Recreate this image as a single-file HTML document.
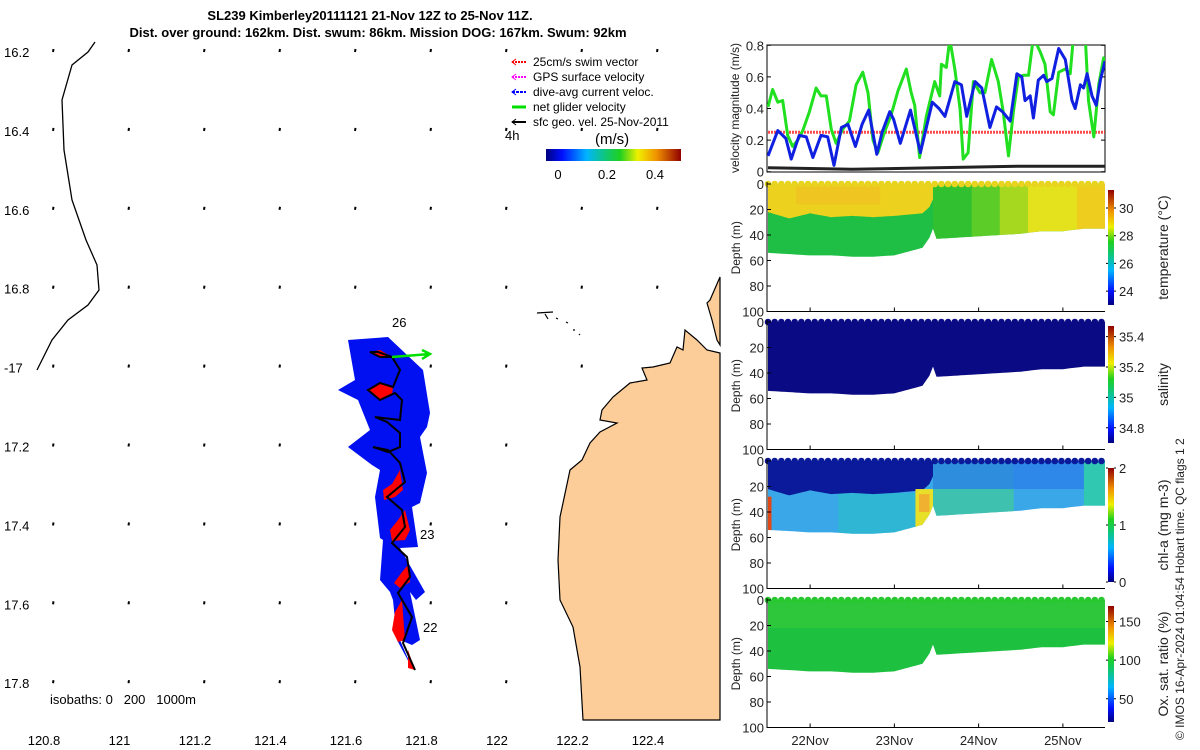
<!DOCTYPE html>
<html><head><meta charset="utf-8"><style>
body{margin:0;background:#fff}
svg{display:block;font-family:"Liberation Sans","DejaVu Sans",sans-serif}
</style></head><body>
<svg id="s" width="1200" height="750" viewBox="0 0 1200 750" xmlns="http://www.w3.org/2000/svg">
<defs>
<linearGradient id="jetH" x1="0" x2="1" y1="0" y2="0">
<stop offset="0" stop-color="#00007f"/><stop offset="0.12" stop-color="#0010ff"/><stop offset="0.3" stop-color="#00b4ff"/><stop offset="0.45" stop-color="#10c870"/><stop offset="0.55" stop-color="#20d020"/><stop offset="0.68" stop-color="#f0f000"/><stop offset="0.82" stop-color="#f09000"/><stop offset="1" stop-color="#900000"/>
</linearGradient>
<linearGradient id="jetV" x1="0" x2="0" y1="1" y2="0">
<stop offset="0" stop-color="#00007f"/><stop offset="0.12" stop-color="#0010ff"/><stop offset="0.3" stop-color="#00b4ff"/><stop offset="0.45" stop-color="#10c870"/><stop offset="0.55" stop-color="#20d020"/><stop offset="0.68" stop-color="#f0f000"/><stop offset="0.82" stop-color="#f09000"/><stop offset="1" stop-color="#900000"/>
</linearGradient>
<clipPath id="velClip"><rect x="767" y="45" width="338" height="127"/></clipPath>
</defs>

<g font-weight="bold" font-size="13" text-anchor="middle">
<text x="370" y="20">SL239 Kimberley20111121 21-Nov 12Z to 25-Nov 11Z.</text>
<text x="378" y="37">Dist. over ground: 162km. Dist. swum: 86km. Mission DOG: 167km. Swum: 92km</text>
</g>

<g>
<path fill="#fccc99" stroke="#000" stroke-width="1.2" d="M720,353 L707,350 L697,340 L685,330 L683,350 L677,347 L670,363 L653,367 L642,368 L647,380 L630,383 L613,397 L602,410 L600,420 L617,423 L600,432 L590,443 L582,460 L570,470 L563,503 L560,517 L558,560 L560,600 L573,627 L580,667 L583,720 L720,720 Z"/>
<path fill="#fccc99" stroke="#000" stroke-width="1.2" d="M720,277 L710,300 L707,303 L712,320 L717,340 L720,345 Z"/>
<path fill="none" stroke="#000" stroke-width="1.2" d="M537,313 L553,312 M545,314 L548,319 M556,318 l2,1 M566,322 l2,1 M573,330 l2,0 M579,334 l1,1"/>
<path fill="none" stroke="#000" stroke-width="1.3" d="M95,42 L88,52 L72,65 L62,100 L64,150 L72,200 L86,240 L97,265 L99,290 L88,305 L68,320 L52,340 L37,370"/>
<g id="grid"></g>
<path fill="#0010f0" d="M348,340 L388,337 L423,370 L430,413 L427,427 L420,437 L427,473 L420,503 L412,507 L418,547 L400,548 L425,592 L416,600 L410,592 L420,640 L412,645 L400,640 L412,668 L397,640 L393,600 L390,592 L380,580 L383,540 L380,538 L375,497 L380,470 L372,465 L348,447 L370,430 L358,400 L338,390 L355,380 Z"/>
<g fill="#ff0000">
<path d="M370,352 L380,350 L392,357 L380,358 Z"/>
<path d="M368,390 L380,383 L393,387 L392,395 L380,400 Z"/>
<path d="M400,470 L403,490 L395,497 L384,500 L383,490 L392,484 Z"/>
<path d="M405,510 L410,530 L405,540 L392,541 L390,530 L398,520 Z"/>
<path d="M408,565 L410,582 L400,588 L394,583 L402,572 Z"/>
<path d="M402,600 L405,640 L398,642 L392,630 L395,612 Z"/>
<path d="M408,650 L415,670 L408,668 Z"/>
</g>
<path fill="none" stroke="#000" stroke-width="2" d="M415,670 L403,643 L412,617 L398,593 L410,577 L407,557 L392,543 L405,527 L402,510 L387,497 L405,482 L400,463 L388,450 L373,447 L388,452 L400,447 L400,433 L387,422 L375,417 L400,420 L402,400 L395,393 L380,400 L368,390 L380,383 L393,387 L400,370 L392,357 L378,352 L370,352 L380,357 L392,357"/>
<g stroke="#00e000" stroke-width="2.5" fill="none"><path d="M392,357 L430,354 M422,350 L430,354 L422,359"/></g>
<g font-size="13">
<text x="392" y="327">26</text><text x="420" y="539">23</text><text x="423" y="632">22</text><text x="505" y="140">4h</text>
</g>
<text x="50" y="704" font-size="13" xml:space="preserve">isobaths: 0   200   1000m</text>
<g id="mapTicks" font-size="13"></g>
</g>

<g font-size="12">
<g><path d="M512,62 h14" stroke="#f00" stroke-width="2" stroke-dasharray="2,1"/><path d="M516,59 l-4,3 l4,3" stroke="#f00" fill="none"/><text x="533" y="66">25cm/s swim vector</text></g>
<g><path d="M512,77 h14" stroke="#f0f" stroke-width="2" stroke-dasharray="2,1"/><path d="M516,74 l-4,3 l4,3" stroke="#f0f" fill="none"/><text x="533" y="81">GPS surface velocity</text></g>
<g><path d="M512,92 h14" stroke="#00f" stroke-width="2" stroke-dasharray="3,1"/><path d="M516,89 l-4,3 l4,3" stroke="#00f" fill="none"/><text x="533" y="96">dive-avg current veloc.</text></g>
<g><path d="M512,107 h14" stroke="#00e000" stroke-width="3"/><text x="533" y="111">net glider velocity</text></g>
<g><path d="M512,122 h14" stroke="#000" stroke-width="2"/><path d="M516,119 l-4,3 l4,3" stroke="#000" fill="none"/><text x="533" y="126">sfc geo. vel. 25-Nov-2011</text></g>
<text x="595" y="144" font-size="15">(m/s)</text>
<rect x="546" y="149" width="135" height="12" fill="url(#jetH)"/>
<g font-size="13" text-anchor="middle"><text x="558" y="179">0</text><text x="607" y="179">0.2</text><text x="655" y="179">0.4</text></g>
</g>

<g id="vel">
<text transform="translate(739,108) rotate(-90)" text-anchor="middle" font-size="12" fill="#222">velocity magnitude (m/s)</text>
</g>
<g id="sections"></g>
<text transform="translate(1184,740) rotate(-90)" font-size="12" fill="#222">© IMOS 16-Apr-2024 01:04:54 Hobart time. QC flags 1  2</text>
</svg>

<script>
// ---- velocity data (hours since 21-Nov 12Z) ----
const blueHours=[0,2.8,5.1,6.6,8.9,10.9,12.8,15.1,17.0,18.8,20.9,22.8,24.9,26.8,28.7,31.0,32.5,34.7,35.8,37.7,40.6,43.4,46.8,48.7,50.4,51.3,53.2,55.1,56.6,59.0,60.9,63.2,65.1,66.8,69.0,70.9,72.3,73.2,74.7,75.6,77.0,78.5,79.4,80.9,82.8,84.7,86.6,87.5,89.0,89.9,90.9,92.3,93.5,94.7,96];
const blueVals=[0.10,0.26,0.21,0.08,0.23,0.22,0.09,0.23,0.22,0.04,0.28,0.30,0.16,0.30,0.39,0.11,0.25,0.38,0.33,0.18,0.39,0.12,0.44,0.40,0.35,0.42,0.57,0.55,0.35,0.57,0.53,0.28,0.41,0.38,0.32,0.62,0.60,0.45,0.48,0.34,0.58,0.61,0.57,0.59,0.78,0.71,0.45,0.40,0.55,0.53,0.62,0.48,0.42,0.58,0.70];
const greenHours=[0,1.3,2.8,4.2,5.6,7.0,8.5,9.9,11.8,13.7,15.1,16.6,18.0,19.4,21.3,23.2,25.1,27.0,28.5,29.9,31.3,33.2,35.1,37.0,39.4,40.8,41.8,43.2,45.1,47.5,48.9,49.4,50.8,51.8,53.2,54.7,55.6,57.0,58.5,60.4,61.8,63.7,65.6,67.0,68.5,69.9,71.3,72.8,74.2,75.6,77.5,78.9,80.4,81.3,82.8,84.7,86.1,87.0,88.5,90.4,91.3,92.8,94.2,95.6,96];
const greenVals=[0.41,0.52,0.44,0.45,0.23,0.16,0.20,0.26,0.38,0.53,0.48,0.48,0.27,0.18,0.27,0.32,0.55,0.63,0.50,0.20,0.12,0.25,0.36,0.51,0.65,0.50,0.42,0.09,0.35,0.57,0.48,0.68,0.66,0.84,0.65,0.40,0.08,0.12,0.57,0.50,0.50,0.71,0.57,0.38,0.10,0.38,0.60,0.61,0.61,0.85,0.76,0.68,0.38,0.36,0.63,0.65,0.62,0.85,0.85,0.85,0.45,0.22,0.55,0.72,0.70];
const swimSpeed=0.25;
const geoHours=[0,24,48,72,96];
const geoVals=[0.025,0.015,0.025,0.035,0.035];
const velTicks=[0,0.2,0.4,0.6,0.8];
const profHours=[0,6,12,18,24,30,36,40,44,46,47,48,54,60,66,72,78,84,90,96];
const bottomDepth=[54,55,56,56,57,57,56,53,50,42,35,43,42,41,40,39,37,37,35,35];
const thermoHours=[0,6,12,18,24,30,36,40,44,46,47];
const thermoDepth=[22,27,23,26,25,26,25,24,23,18,12];
const dayLabels=["22Nov","23Nov","24Nov","25Nov"];
const dayHours=[12,36,60,84];
const depthTicks=[0,20,40,60,80,100];
const tempTicks=[24,26,28,30], salTicks=[34.8,35,35.2,35.4], chlTicks=[0,1,2], oxTicks=[50,100,150];
const lonTicks=[120.8,121,121.2,121.4,121.6,121.8,122,122.2,122.4];
const latTicks=[16.2,16.4,16.6,16.8,17,17.2,17.4,17.6,17.8];

const NS="http://www.w3.org/2000/svg";
function mk(p,tag,a){const e=document.createElementNS(NS,tag);for(const k in a)e.setAttribute(k,a[k]);p.appendChild(e);return e;}
const hx=h=>768+h*(337/96);
const vy=v=>171.7-v*158;
const lonX=l=>51+(l-120.8)/0.2*75.5;
const latY=l=>52+(l-16.2)/0.2*78.9;

const mt=document.getElementById('mapTicks'), gr=document.getElementById('grid');
lonTicks.forEach(l=>{const t=mk(mt,'text',{x:lonX(l)-7,y:745,'text-anchor':'middle'});t.textContent=(Math.round(l*10)/10).toString();
 
 });
latTicks.forEach(l=>{const t=mk(mt,'text',{x:4,y:latY(l)+5});t.textContent=l===17?'-17':l.toFixed(1);
 
 });
lonTicks.forEach(lo=>latTicks.forEach(la=>{const x=lonX(lo)+2,y=latY(la);
 if(x>575&&y>440)return; if(x>650&&y>350)return;
 const p=mk(gr,'path',{d:`M${x},${y} l0.5,-3`,stroke:'#000','stroke-width':2});
 
 }));

const vel=document.getElementById('vel');
mk(vel,'rect',{x:767,y:45,width:338,height:127,fill:'none',stroke:'#000','stroke-width':1});
velTicks.forEach(v=>{const t=mk(vel,'text',{x:764,y:vy(v)+5,'text-anchor':'end','font-size':13,fill:'#222'});t.textContent=v===0?'0':v.toFixed(1);
 
 
 mk(vel,'path',{d:`M767,${vy(v)} h4 M1105,${vy(v)} h-4`,stroke:'#000'});});
const cg=mk(vel,'g',{'clip-path':'url(#velClip)'});
const line=(hs,vs)=>hs.map((h,i)=>(i?'L':'M')+hx(h).toFixed(1)+','+vy(vs[i]).toFixed(1)).join(' ');
const sw=mk(cg,'path',{d:`M${hx(0)},${vy(swimSpeed)} H${hx(96)}`,stroke:'#ff2020','stroke-width':3,'stroke-dasharray':'2,1',opacity:0.8});


const gl=mk(cg,'path',{d:line(greenHours,greenVals),stroke:'#20e020','stroke-width':3,fill:'none','stroke-linejoin':'round'});


const bl=mk(cg,'path',{d:line(blueHours,blueVals),stroke:'#1020e0','stroke-width':3,fill:'none','stroke-linejoin':'round'});


const kl=mk(cg,'path',{d:line(geoHours,geoVals),stroke:'#222','stroke-width':3,fill:'none'});



const sec=document.getElementById('sections');
const interp=(hs,ds,h)=>{for(let i=1;i<hs.length;i++)if(h<=hs[i]){const f=(h-hs[i-1])/(hs[i]-hs[i-1]);return ds[i-1]+f*(ds[i]-ds[i-1]);}return ds[ds.length-1];};
const panels=[
 {top:184,name:'temperature',label:'temperature (°C)',ticks:tempTicks,lo:23,hi:31.3,cb:[190,305]},
 {top:322,name:'salinity',label:'salinity',ticks:salTicks,lo:34.7,hi:35.47,cb:[326,443]},
 {top:461,name:'chlorophyll',label:'chl-a (mg m-3)',ticks:chlTicks,lo:0,hi:2,cb:[468,582]},
 {top:600,name:'oxygen',label:'Ox. sat. ratio (%)',ticks:oxTicks,lo:20,hi:170,cb:[606,722]}];
const dy=d=>d*1.275;
const topCol=['#e8d41f','#0a0a85','#0a1a9a','#28c830'];
panels.forEach((P,pi)=>{
 const g=mk(sec,'g',{});
 
 
 const cid='clip'+pi;
 const cp=mk(mk(g,'defs',{}),'clipPath',{id:cid});
 let d=`M${hx(0)},${P.top}`;
 for(let h=0;h<=96;h+=1)d+=` L${hx(h).toFixed(1)},${(P.top+dy(interp(profHours,bottomDepth,h))).toFixed(1)}`;
 d+=` L${hx(96)},${P.top} Z`;
 mk(cp,'path',{d});
 const b=mk(g,'g',{'clip-path':`url(#${cid})`});
 const R=(h0,h1,d0,d1,c,o)=>mk(b,'rect',{x:hx(h0),y:P.top+dy(d0),width:hx(h1)-hx(h0),height:dy(d1-d0),fill:c,opacity:o||1});
 const upper=(col)=>{let u=`M${hx(0)},${P.top-6}`;for(let h=0;h<=47;h+=1)u+=` L${hx(h).toFixed(1)},${(P.top+dy(interp(thermoHours,thermoDepth,h))).toFixed(1)}`;u+=` L${hx(47)},${P.top-6} Z`;mk(b,'path',{d:u,fill:col});};
 if(pi===0){R(0,96,-5,70,'#1fbf45');upper('#ecd21f');R(8,32,-5,16,'#f2b825',0.5);
   R(47,58,-5,70,'#30c030');R(58,66,-5,70,'#5ccc28');R(66,74,-5,70,'#a6d820');R(74,96,-5,70,'#e4e21c');R(88,96,-5,70,'#f0c820',0.8);}
 if(pi===1){R(0,96,-5,70,'#0a0a85');}
 if(pi===2){R(0,96,-5,70,'#3aa8e8');R(20,42,25,60,'#28c0c8',0.6);upper('#0a1a9a');R(42,47,22,52,'#e8e028');R(43,46,26,40,'#f0b030');
   R(0,1,28,60,'#e04818');R(47,70,-5,70,'#40c8a0',0.8);R(47,90,-5,22,'#2a80e8',0.8);R(90,96,-5,70,'#30c8b0');}
 if(pi===3){R(0,96,-5,70,'#1ec040');R(0,96,-5,22,'#38cc38',0.6);}
 for(let h=0;h<=96;h+=1.9){mk(g,'circle',{cx:hx(h),cy:P.top,r:3.3,fill:topCol[pi]});}
 mk(g,'path',{d:`M767,${P.top-2} V${P.top+dy(100)} H1105`,stroke:'#000',fill:'none'});
 depthTicks.forEach(t=>{const y=P.top+dy(t);mk(g,'path',{d:`M767,${y} h4`,stroke:'#000'});
  const tx=mk(g,'text',{x:764,y:y+5,'text-anchor':'end','font-size':13,fill:'#222'});tx.textContent=t;
  
  });
 dayHours.forEach(h=>mk(g,'path',{d:`M${hx(h)},${P.top+dy(100)} v-4`,stroke:'#000'}));
 const yl=mk(g,'text',{transform:`translate(740,${P.top+dy(50)}) rotate(-90)`,'text-anchor':'middle','font-size':12,fill:'#222'});yl.textContent='Depth (m)';
 
 
 const cb=mk(g,'rect',{x:1108,y:P.cb[0],width:6,height:P.cb[1]-P.cb[0],fill:'url(#jetV)'});
 
 
 P.ticks.forEach(t=>{const y=P.cb[1]-(t-P.lo)/(P.hi-P.lo)*(P.cb[1]-P.cb[0]);mk(g,'path',{d:`M1108,${y} h-2 M1114,${y} h2`,stroke:'#000'});
  const tx=mk(g,'text',{x:1119,y:y+5,'font-size':13,fill:'#222'});tx.textContent=String(t);
  
  });
 const cl=mk(g,'text',{transform:`translate(1168,${(P.cb[0]+P.cb[1])/2}) rotate(-90)`,'text-anchor':'middle','font-size':14,fill:'#222'});cl.textContent=P.label;
 
 
});
dayLabels.forEach((l,i)=>{const t=mk(sec,'text',{x:hx(dayHours[i]),y:745,'text-anchor':'middle','font-size':13,fill:'#222'});t.textContent=l;
 
 });
</script>
</body></html>
